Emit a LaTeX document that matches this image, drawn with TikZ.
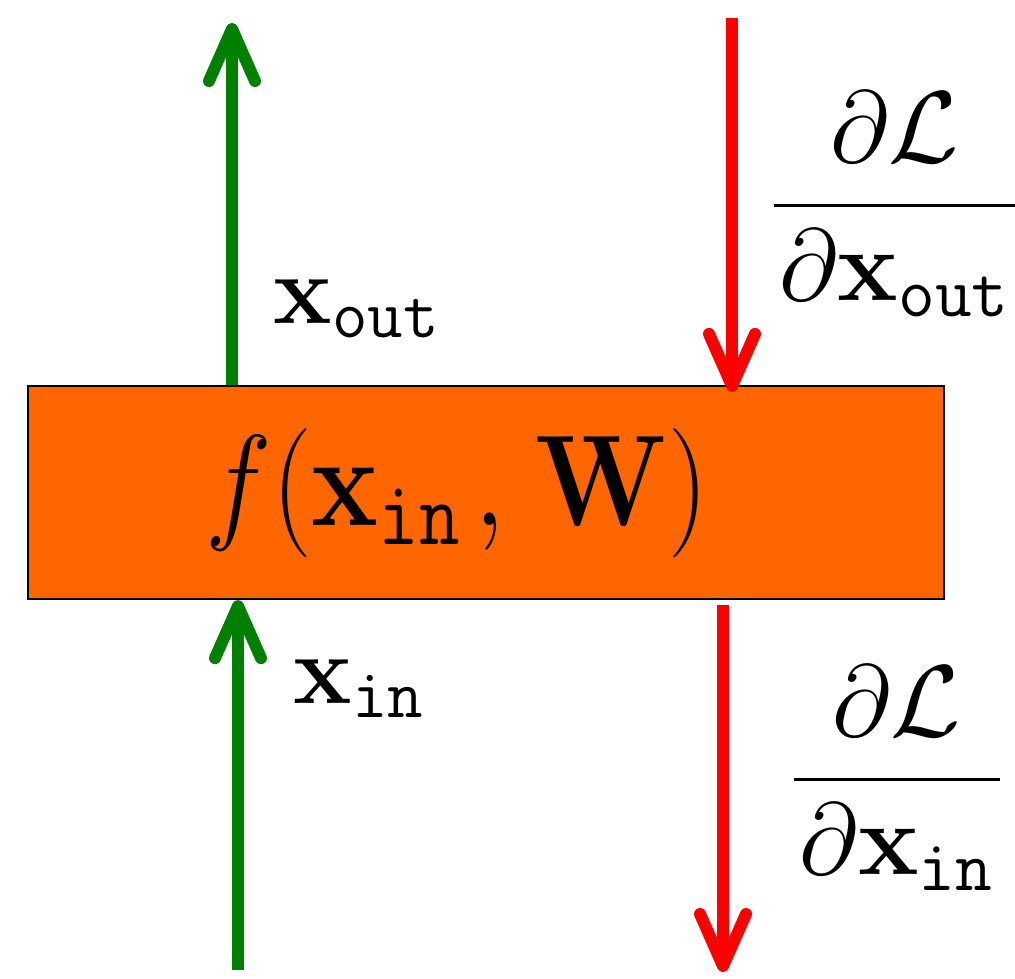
\RequirePackage{fix-cm}
\documentclass[tikz,border=0pt]{standalone}
\usepackage{amsmath}
\usepackage{tikz}
\usetikzlibrary{arrows.meta,positioning}
\definecolor{boxorange}{RGB}{255,102,0}
\definecolor{fwdgreen}{RGB}{0,128,0}
\definecolor{bwdred}{RGB}{255,0,0}
\newcommand{\gradfrac}[2]{\genfrac{}{}{1.1pt}{0}{#1}{\mkern1mu#2\mkern1mu}}

\begin{document}
\begin{tikzpicture}[
    x=0.01cm, y=-0.01cm,
    block/.style={rectangle, draw=black, line width=0.6pt, fill=boxorange,
                  minimum width=9.16cm, minimum height=2.13cm, inner sep=0pt},
    fwd/.style={line width=3.4pt, draw=fwdgreen, -{Straight Barb[length=5.2mm, width=4.6mm, round]}},
    bwd/.style={line width=3.4pt, draw=bwdred, -{Straight Barb[length=5.2mm, width=4.6mm, round]}},
    lbl/.style={inner sep=0pt, font=\fontsize{28}{34}\selectfont},
    frac/.style={inner sep=0pt, font=\fontsize{29}{35}\selectfont}
]
\path[use as bounding box] (0,0) rectangle (1015,978);

% Layer block
\node[block] (f) at (486,492.5) {};
\node[inner sep=0pt, anchor=base, font=\fontsize{32}{38}\selectfont] (flabel) at (457,525)
     {\scalebox{1}[1.15]{$f(\mathbf{x}_{\mathtt{in}}\mkern2mu,\mkern2mu\mathbf{W})$}};

% Free ends of the arrows
\coordinate (outtip) at (232,23);
\coordinate (intail) at (238,970);
\coordinate (gouttail) at (732,18);
\coordinate (gintip) at (723,972);

% Forward pass
\draw[fwd] (f.north -| outtip) -- (outtip);
\draw[fwd] (intail) -- (f.south -| intail);
\node[lbl, anchor=base west] (xout) at (273,323) {$\mathbf{x}_{\mathtt{out}}$};
\node[lbl, anchor=base west] (xin) at (293,703) {$\mathbf{x}_{\mathtt{in}}$};

% Backward pass
\draw[bwd, shorten >=-0.07cm] (gouttail) -- (f.north -| gouttail);
\draw[bwd, shorten <=0.05cm] (f.south -| gintip) -- (gintip);
\node[frac, anchor=base] (dout) at (895,231)
     {$\gradfrac{\partial\mathcal{L}}{\partial\mathbf{x}_{\mathtt{out}}}$};
\node[frac, anchor=base] (din) at (897,805)
     {$\gradfrac{\partial\mathcal{L}}{\partial\mathbf{x}_{\mathtt{in}}}$};

\end{tikzpicture}
\end{document}
